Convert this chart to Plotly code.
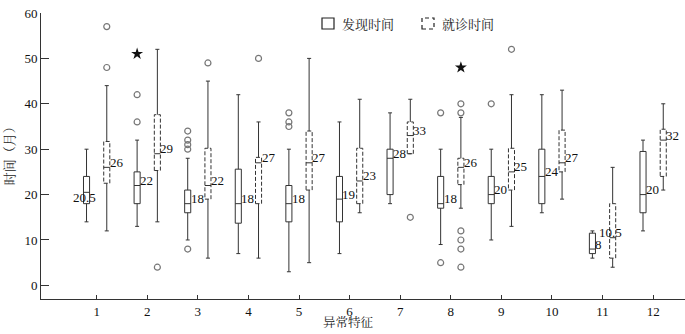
import plotly.graph_objects as go

# ---------------- data ----------------
groups = [1, 2, 3, 4, 5, 6, 7, 8, 9, 10, 11, 12]
tick_labels = ["1", "2", "3", "4", "5", "6", "7", "8", "9", "10", "11", "12"]

# 发现时间 (discovery time)
disc_min = [14, 13, 10, 7, 3, 7, 18, 9, 10, 16, 6, 12]
disc_q1 = [18, 18, 16, 13.7, 14, 14, 20, 17, 18, 18, 7, 16]
disc_med = [20.5, 22, 18, 18, 18, 19, 28, 18, 20, 24, 8, 20]
disc_q3 = [24, 25, 21, 25.6, 22, 24, 30, 24, 24, 30, 11.5, 29.5]
disc_max = [30, 32, 28, 42, 30, 36, 38, 30, 30, 42, 12, 32]
disc_outliers = {2: [36, 42], 3: [8, 30, 31, 32, 34], 5: [35, 36, 38], 8: [5, 38], 9: [40]}
disc_extremes = {2: [51]}

# 就诊时间 (diagnosis time)
diag_min = [12, 14, 6, 6, 5, 16, 29, 17, 13, 19, 4, 21]
diag_q1 = [22.5, 25.3, 19, 18, 21, 18, 29, 22.2, 21, 25, 6, 24]
diag_med = [26, 29, 22, 27, 27, 23, 33, 26, 25, 27, 10.5, 32]
diag_q3 = [31.7, 37.6, 30.2, 28.2, 34, 30.2, 36, 28, 30.2, 34.2, 18, 34.4]
diag_max = [44, 52, 45, 36, 50, 41, 41, 37, 42, 43, 26, 40]
diag_outliers = {1: [48, 57], 2: [4], 3: [49], 4: [50], 7: [15], 8: [4, 8, 10, 12, 38, 40], 9: [52]}
diag_extremes = {8: [48]}

series_names = ["发现时间", "就诊时间"]
x_title = "异常特征"
y_title = "时间（月）"

# ---------------- styling ----------------
FONT = "Liberation Serif, Times New Roman, Noto Sans CJK SC, serif"
CJK = "Noto Serif CJK SC, Noto Sans CJK SC, serif"
LINE = "#333333"
TXT = "#111111"
OFF = 0.2
HALF_W = 0.06
CAP = 0.04

fig = go.Figure()

xs_disc = [g - OFF for g in groups]
xs_diag = [g + OFF for g in groups]

# solid boxes (discovery)
fig.add_trace(go.Box(
    x=xs_disc, q1=disc_q1, median=disc_med, q3=disc_q3,
    lowerfence=disc_min, upperfence=disc_max,
    width=2 * HALF_W, whiskerwidth=0.65,
    line=dict(color=LINE, width=1), fillcolor="rgba(255,255,255,0)",
    boxpoints=False, showlegend=False, name=series_names[0], hoverinfo="skip"))

# dashed boxes (diagnosis): rectangle dashed, whiskers/median solid
rx, ry, wx, wy = [], [], [], []
for x, lo, a, m, b, hi in zip(xs_diag, diag_min, diag_q1, diag_med, diag_q3, diag_max):
    x0, x1 = x - HALF_W, x + HALF_W
    rx += [x0, x1, x1, x0, x0, None]
    ry += [a, a, b, b, a, None]
    wx += [x0, x1, None, x, x, None, x, x, None, x - CAP, x + CAP, None, x - CAP, x + CAP, None]
    wy += [m, m, None, b, hi, None, a, lo, None, hi, hi, None, lo, lo, None]
fig.add_trace(go.Scatter(x=wx, y=wy, mode="lines", line=dict(color=LINE, width=1),
                         showlegend=False, hoverinfo="skip"))
fig.add_trace(go.Scatter(x=rx, y=ry, mode="lines", line=dict(color=LINE, width=1, dash="4px,2px"),
                         showlegend=False, hoverinfo="skip"))

# outliers and extremes
ox, oy, ex, ey = [], [], [], []
for d, off in ((disc_outliers, -OFF), (diag_outliers, OFF)):
    for g, vals in d.items():
        ox += [g + off] * len(vals)
        oy += vals
for d, off in ((disc_extremes, -OFF), (diag_extremes, OFF)):
    for g, vals in d.items():
        ex += [g + off] * len(vals)
        ey += vals
fig.add_trace(go.Scatter(x=ox, y=oy, mode="markers",
                         marker=dict(symbol="circle-open", size=6, color="#777777", line=dict(width=1.2)),
                         showlegend=False, hoverinfo="skip"))
fig.add_trace(go.Scatter(x=ex, y=ey, mode="markers",
                         marker=dict(symbol="star", size=9, color="#111111"),
                         showlegend=False, hoverinfo="skip"))

# median labels
def fmt(v):
    return f"{v:g}"

for xs, meds in ((xs_disc, disc_med), (xs_diag, diag_med)):
    for x, m in zip(xs, meds):
        txt = fmt(m)
        dec = "." in txt
        fig.add_annotation(x=x, y=m, text=txt, showarrow=False,
                           xanchor="center" if dec else "left",
                           xshift=-2 if dec else 1, yshift=5 if not (dec and m > 15) else -5,
                           font=dict(family=FONT, size=13, color=TXT))

# manual legend (paper coords, converted from page pixels)
L, T, B = 41, 13, 299.3
PW, PH = 685 - L, B - T
def px(xp):
    return (xp - L) / PW
def py(yp):
    return (B - yp) / PH

legend_items = [(322, series_names[0], "solid"), (422, series_names[1], "dash")]
for x0, name, dash in legend_items:
    fig.add_shape(type="rect", xref="paper", yref="paper",
                  x0=px(x0), x1=px(x0 + 12), y0=py(29), y1=py(18),
                  line=dict(color="#222222", width=1.2, dash=dash if dash == "solid" else "4px,3px"),
                  fillcolor="rgba(0,0,0,0)")
    fig.add_annotation(xref="paper", yref="paper", x=px(x0 + 18), y=py(23.5), text=name,
                       showarrow=False, xanchor="left", yanchor="middle",
                       font=dict(family=CJK, size=13, color="#222222"))

fig.update_layout(
    width=685, height=334,
    margin=dict(l=41, r=0, t=13, b=35),
    paper_bgcolor="white", plot_bgcolor="white",
    showlegend=False, boxmode="overlay",
    font=dict(family=FONT, size=13, color=TXT),
    xaxis=dict(range=[-0.1, 12.63], tickmode="array", tickvals=groups, ticktext=tick_labels,
               showgrid=False, zeroline=False, showline=True, linecolor=LINE, linewidth=1,
               ticks="inside", ticklen=4, tickcolor=LINE,
               tickfont=dict(family=FONT, size=13, color=TXT)),
    yaxis=dict(range=[-3, 60], tickvals=[0, 10, 20, 30, 40, 50, 60],
               showgrid=False, zeroline=False, showline=True, linecolor=LINE, linewidth=1,
               ticks="inside", ticklen=8, tickcolor=LINE,
               tickfont=dict(family=FONT, size=13, color=TXT)),
)
fig.add_annotation(xref="paper", yref="paper", x=px(348), y=py(333), text=x_title, showarrow=False,
                   xanchor="center", yanchor="bottom", font=dict(family=CJK, size=12.5, color="#222222"))
fig.add_annotation(xref="paper", yref="paper", x=px(8.5), y=py(153), text=y_title, showarrow=False,
                   textangle=-90, xanchor="center", yanchor="middle",
                   font=dict(family=CJK, size=13, color="#222222"))

fig.write_html("out.html", config={"displayModeBar": False},
               post_script="document.body.style.margin='0px';document.body.style.overflow='hidden';")
